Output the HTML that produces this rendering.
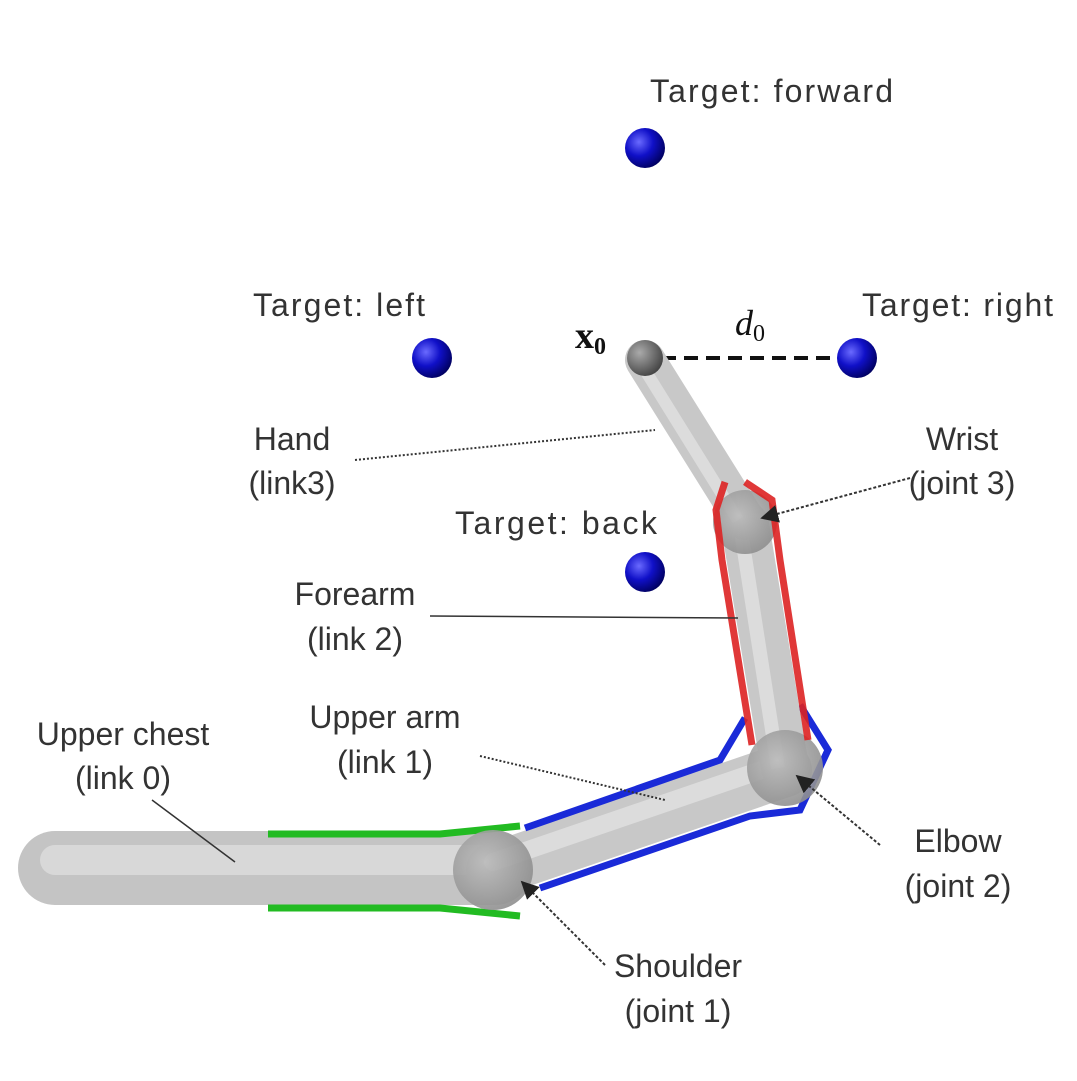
<!DOCTYPE html>
<html><head><meta charset="utf-8"><style>
html,body{margin:0;padding:0;background:#fff;}
svg{display:block;}
text{font-family:"Liberation Sans",sans-serif;font-size:32px;fill:#333;}
</style></head><body>
<svg width="1077" height="1081" viewBox="0 0 1077 1081" xmlns="http://www.w3.org/2000/svg">
<defs>
<radialGradient id="blue" cx="0.35" cy="0.35" r="0.7">
<stop offset="0" stop-color="#6a6aff"/><stop offset="0.5" stop-color="#1010c8"/><stop offset="1" stop-color="#000060"/></radialGradient>
<radialGradient id="gray" cx="0.35" cy="0.35" r="0.7">
<stop offset="0" stop-color="#aaa"/><stop offset="1" stop-color="#444"/></radialGradient>
<radialGradient id="joint" cx="0.4" cy="0.4" r="0.7">
<stop offset="0" stop-color="#bbb"/><stop offset="1" stop-color="#8a8a8a"/></radialGradient>
<marker id="ar" viewBox="0 0 10 10" refX="9" refY="5" markerWidth="9" markerHeight="9" orient="auto">
<path d="M0,0 L10,5 L0,10 z" fill="#222"/></marker>
</defs>

<circle cx="645" cy="148" r="20" fill="url(#blue)"/>
<circle cx="432" cy="358" r="20" fill="url(#blue)"/>
<circle cx="857" cy="358" r="20" fill="url(#blue)"/>
<circle cx="645" cy="572" r="20" fill="url(#blue)"/>
<line x1="662" y1="358" x2="838" y2="358" stroke="#111" stroke-width="4" stroke-dasharray="14,8"/>

<line x1="55" y1="868" x2="495" y2="868" stroke="#c4c4c4" stroke-width="74" stroke-linecap="round"/>
<line x1="55" y1="860" x2="495" y2="860" stroke="#d8d8d8" stroke-width="30" stroke-linecap="round"/>
<path d="M268,834 L440,834 L520,826" fill="none" stroke="#22bb22" stroke-width="7"/>
<path d="M268,908 L440,908 L520,916" fill="none" stroke="#22bb22" stroke-width="7"/>
<line x1="493" y1="870" x2="785" y2="770" stroke="#c8c8c8" stroke-width="54" stroke-linecap="round"/>
<line x1="493" y1="862" x2="785" y2="762" stroke="#dcdcdc" stroke-width="18" stroke-linecap="round"/>
<path d="M525,828 L720,760 L745,718" fill="none" stroke="#1a2ad8" stroke-width="7"/>
<path d="M540,888 L750,816 L800,810 L828,750 L800,705" fill="none" stroke="#1a2ad8" stroke-width="7"/>
<circle cx="493" cy="870" r="40" fill="url(#joint)" opacity="0.9"/>
<line x1="785" y1="768" x2="745" y2="525" stroke="#c8c8c8" stroke-width="48" stroke-linecap="round"/>
<line x1="778" y1="768" x2="740" y2="525" stroke="#dcdcdc" stroke-width="14"/>
<circle cx="785" cy="768" r="38" fill="url(#joint)" opacity="0.9"/>
<line x1="745" y1="520" x2="645" y2="360" stroke="#c8c8c8" stroke-width="40" stroke-linecap="round"/>
<line x1="738" y1="520" x2="640" y2="362" stroke="#dcdcdc" stroke-width="12"/>
<circle cx="745" cy="522" r="32" fill="url(#joint)" opacity="0.9"/>
<path d="M752,745 L722,560 L716,510 L725,482" fill="none" stroke="#dd2222" stroke-width="7" opacity="0.9"/>
<path d="M808,740 L780,560 L772,500 L745,482" fill="none" stroke="#dd2222" stroke-width="7" opacity="0.9"/>
<circle cx="645" cy="358" r="18" fill="url(#gray)"/>

<line x1="355" y1="460" x2="655" y2="430" stroke="#333" stroke-width="2" stroke-dasharray="2,2"/>
<line x1="910" y1="478" x2="762" y2="518" stroke="#333" stroke-width="2" stroke-dasharray="3,2" marker-end="url(#ar)"/>
<line x1="430" y1="616" x2="738" y2="618" stroke="#333" stroke-width="1.5"/>
<line x1="480" y1="756" x2="665" y2="800" stroke="#333" stroke-width="2" stroke-dasharray="2,2"/>
<line x1="152" y1="800" x2="235" y2="862" stroke="#333" stroke-width="1.5"/>
<line x1="880" y1="845" x2="797" y2="776" stroke="#333" stroke-width="2" stroke-dasharray="3,2" marker-end="url(#ar)"/>
<line x1="605" y1="965" x2="522" y2="882" stroke="#333" stroke-width="2" stroke-dasharray="3,2" marker-end="url(#ar)"/>

<text x="650" y="102" textLength="243">Target: forward</text>
<text x="253" y="316" textLength="172">Target: left</text>
<text x="862" y="316" textLength="191">Target: right</text>
<text x="575" y="348" style="font-family:'Liberation Serif',serif;font-weight:bold;font-size:38px;fill:#111">x<tspan font-size="24" dy="6">0</tspan></text>
<text x="735" y="335" style="font-family:'Liberation Serif',serif;font-style:italic;font-size:36px;fill:#111">d<tspan font-size="24" dy="6" style="font-style:normal">0</tspan></text>
<text text-anchor="middle" x="292" y="450">Hand</text>
<text text-anchor="middle" x="292" y="494">(link3)</text>
<text text-anchor="middle" x="962" y="450">Wrist</text>
<text text-anchor="middle" x="962" y="494">(joint 3)</text>
<text x="455" y="534" textLength="202">Target: back</text>
<text text-anchor="middle" x="355" y="605">Forearm</text>
<text text-anchor="middle" x="355" y="650">(link 2)</text>
<text text-anchor="middle" x="385" y="728">Upper arm</text>
<text text-anchor="middle" x="385" y="773">(link 1)</text>
<text text-anchor="middle" x="123" y="745">Upper chest</text>
<text text-anchor="middle" x="123" y="789">(link 0)</text>
<text text-anchor="middle" x="958" y="852">Elbow</text>
<text text-anchor="middle" x="958" y="897">(joint 2)</text>
<text text-anchor="middle" x="678" y="977">Shoulder</text>
<text text-anchor="middle" x="678" y="1022">(joint 1)</text>
</svg>
</body></html>
